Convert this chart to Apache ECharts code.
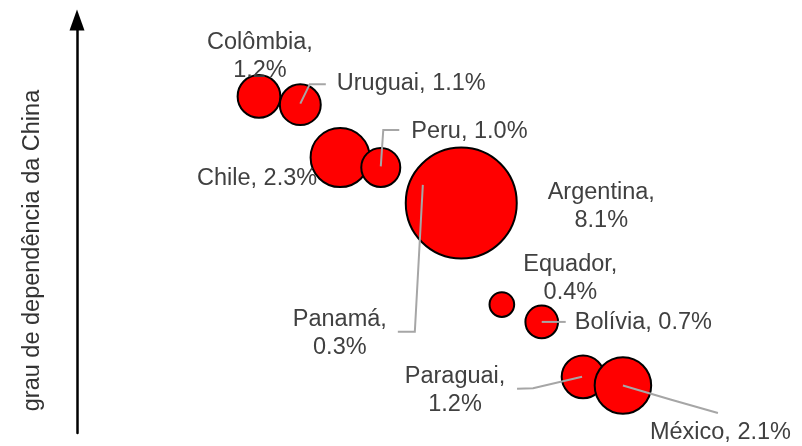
<!DOCTYPE html>
<html>
<head>
<meta charset="utf-8">
<script src="https://cdn.jsdelivr.net/npm/echarts@6/dist/echarts.min.js"></script>
<style>
html,body{margin:0;padding:0;background:#fff;}
#chart{width:802px;height:446px;}
</style>
</head>
<body>
<div id="chart"></div>
<script>
// ---- data ----
const countries = ['Colômbia','Uruguai','Chile','Peru','Panamá','Argentina','Equador','Bolívia','Paraguai','México'];
const shares = [1.2, 1.1, 2.3, 1.0, 0.3, 8.1, 0.4, 0.7, 1.2, 2.1];          // % (bubble area)
const xPosition = [25.1, 30.8, 36.3, 41.9, 47.7, 53.0, 58.6, 64.1, 69.8, 75.3]; // horizontal placement
const dependence = [81.5, 79.5, 66.7, 64.3, 59.6, 55.7, 31.1, 26.9, 13.6, 11.5]; // grau de dependência da China
const axisTitle = 'grau de dependência da China';

// ---- label placement (offsets from bubble centre, px) ----
const labelPlacement = {
  'Colômbia':  {dx: 1,    dy: -39.5, align: 'center', wrap: true},
  'Uruguai':   {dx: 36.5, dy: -21.5, align: 'left',   line: [[0,-1],[9.5,-20.5],[25.5,-20.5]]},
  'Chile':     {dx: -23,  dy: 21,    align: 'right'},
  'Peru':      {dx: 30.5, dy: -36,   align: 'left',   line: [[0,-1],[2.5,-37.5],[18.5,-37.5]]},
  'Panamá':    {dx: -83,  dy: 147,   align: 'center', wrap: true, line: [[0,-2],[-8,145],[-25,145]]},
  'Argentina': {dx: 140,  dy: 3.5,   align: 'center', wrap: true},
  'Equador':   {dx: 68.5, dy: -26.5, align: 'center', wrap: true},
  'Bolívia':   {dx: 33,   dy: 1,     align: 'left',   line: [[0,0],[12,0],[24,0]]},
  'Paraguai':  {dx: -128, dy: 13.5,  align: 'center', wrap: true, line: [[-1,0],[-50,11.5],[-66,12]]},
  'México':    {dx: 27,   dy: 47,    align: 'left',   line: [[0,0],[47.5,14],[95,27.5]]}
};

const FONT = "'Liberation Sans', Arial, sans-serif";
const TEXT_COLOR = '#404040';

const seriesData = countries.map((c, i) => ({
  name: c,
  value: [xPosition[i], dependence[i], shares[i]]
}));

const chart = echarts.init(document.getElementById('chart'), null, {renderer: 'canvas'});
chart.setOption({
  animation: false,
  backgroundColor: '#ffffff',
  grid: {left: 77, right: 0, top: 20, bottom: 13},
  xAxis: {type: 'value', min: 0, max: 100, show: false},
  yAxis: {
    type: 'value', min: 0, max: 100,
    name: axisTitle,
    nameLocation: 'middle',
    nameRotate: 90,
    nameGap: 32,
    nameTextStyle: {fontFamily: FONT, fontSize: 23.5, color: '#333333', padding: [0, 48, 0, 0]},
    axisLine: {show: true, symbol: ['none', 'triangle'], symbolSize: [15, 21],
               lineStyle: {color: '#000000', width: 2.5}},
    axisTick: {show: false},
    axisLabel: {show: false},
    splitLine: {show: false}
  },
  series: [{
    type: 'scatter',
    z: 2,
    data: seriesData,
    symbol: 'circle',
    symbolSize: (val) => 39 * Math.sqrt(val[2]),
    itemStyle: {color: '#ff0000', borderColor: '#000000', borderWidth: 2, opacity: 1},
    emphasis: {disabled: true},
    label: {
      show: true,
      fontFamily: FONT,
      fontSize: 23.5,
      lineHeight: 28,
      color: TEXT_COLOR,
      formatter: (p) => {
        const pl = labelPlacement[p.name];
        const v = p.value[2].toFixed(1) + '%';
        return p.name + ',' + (pl.wrap ? '\n' : ' ') + v;
      }
    },
    labelLayout: (params) => {
      const pl = labelPlacement[countries[params.dataIndex]];
      const r = params.rect;
      const cx = r.x + r.width / 2, cy = r.y + r.height / 2;
      return {x: cx + pl.dx, y: cy + pl.dy, align: pl.align, verticalAlign: 'middle'};
    }
  }, {
    // leader lines, anchored on each bubble centre
    type: 'custom',
    z: 3,
    silent: true,
    data: seriesData,
    renderItem: (params, api) => {
      const pl = labelPlacement[countries[params.dataIndex]];
      if (!pl.line) return null;
      const c = api.coord([api.value(0), api.value(1)]);
      return {
        type: 'polyline',
        shape: {points: pl.line.map(p => [c[0] + p[0], c[1] + p[1]])},
        style: {stroke: '#a6a6a6', lineWidth: 2, fill: null}
      };
    }
  }]
});
</script>
</body>
</html>
